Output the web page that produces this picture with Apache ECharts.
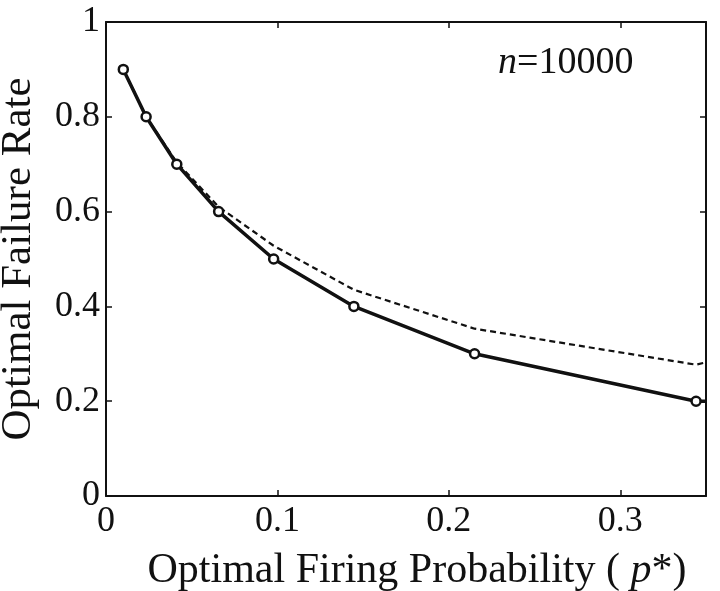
<!DOCTYPE html>
<html>
<head>
<meta charset="utf-8">
<script src="https://cdn.jsdelivr.net/npm/echarts@6/dist/echarts.min.js"></script>
<style>
  html, body { margin: 0; padding: 0; background: #fff; }
  #chart { width: 720px; height: 591px; }
</style>
</head>
<body>
<div id="chart"></div>
<script>
// optimal firing probability p* (x) for each point
const firingProb = [0.0101, 0.0234, 0.0413, 0.0657, 0.0978, 0.1446, 0.2150, 0.3442, 0.35];
// simulated optimal failure rate (solid, with markers)
const failureSim = [0.9, 0.8, 0.7, 0.6, 0.5, 0.4, 0.3, 0.2, 0.2];
// approximation (dashed)
const failureApprox = [0.9, 0.8, 0.704, 0.61, 0.528, 0.435, 0.353, 0.277, 0.282];
const xTicks = [0, 0.1, 0.2, 0.3];
const yTicks = [0, 0.2, 0.4, 0.6, 0.8, 1];

const font = "'Liberation Serif', 'Times New Roman', serif";
const black = "#111";

let myChart = echarts.init(document.getElementById("chart"));

const solidData = firingProb.map((x, i) => {
  // last point is only where the curve leaves the frame, no marker there
  if (i === firingProb.length - 1) return { value: [x, failureSim[i]], symbol: "none" };
  return [x, failureSim[i]];
});
const dashedData = firingProb.map((x, i) => [x, failureApprox[i]]);

const axisLine = { show: true, onZero: false, lineStyle: { color: black, width: 2 } };
const tick = { show: true, inside: true, length: 6, lineStyle: { color: black, width: 1.5 } };

myChart.setOption({
  animation: false,
  backgroundColor: "#fff",
  grid: { left: 106, right: 14, top: 22, bottom: 95, outerBoundsMode: "none", containLabel: false },
  xAxis: [
    {
      type: "value",
      position: "bottom",
      min: xTicks[0],
      max: 0.35,
      interval: 0.1,
      splitLine: { show: false },
      axisLine: axisLine,
      axisTick: tick,
      axisLabel: {
        color: black,
        fontFamily: font,
        fontSize: 36,
        margin: 8,
        showMaxLabel: false,
        formatter: (v) => (xTicks.some((t) => Math.abs(t - v) < 1e-9) ? String(+v.toFixed(2)) : ""),
      },
      name: "Optimal Firing Probability ( {i|p}*)",
      nameLocation: "middle",
      nameGap: 54,
      nameTextStyle: {
        color: black,
        fontFamily: font,
        fontSize: 42,
        padding: [0, 0, 0, 22],
        rich: { i: { fontFamily: font, fontSize: 42, fontStyle: "italic", color: black } },
      },
    },
    {
      type: "value",
      position: "top",
      min: xTicks[0],
      max: 0.35,
      interval: 0.1,
      splitLine: { show: false },
      axisLine: axisLine,
      axisTick: tick,
      axisLabel: { show: false },
    },
  ],
  yAxis: [
    {
      type: "value",
      position: "left",
      min: yTicks[0],
      max: yTicks[yTicks.length - 1],
      interval: 0.2,
      splitLine: { show: false },
      axisLine: axisLine,
      axisTick: tick,
      axisLabel: {
        color: black,
        fontFamily: font,
        fontSize: 36,
        margin: 6,
        formatter: (v) => String(+v.toFixed(1)),
      },
      name: "Optimal Failure Rate",
      nameLocation: "middle",
      nameGap: 66,
      nameTextStyle: { color: black, fontFamily: font, fontSize: 43 },
    },
    {
      type: "value",
      position: "right",
      min: yTicks[0],
      max: yTicks[yTicks.length - 1],
      interval: 0.2,
      splitLine: { show: false },
      axisLine: axisLine,
      axisTick: tick,
      axisLabel: { show: false },
    },
  ],
  graphic: [
    {
      type: "text",
      left: 498,
      top: 44,
      style: {
        text: "{i|n}=10000",
        fill: black,
        font: "38px " + font,
        rich: { i: { fontFamily: font, fontSize: 38, fontStyle: "italic", fill: black } },
      },
    },
  ],
  series: [
    {
      name: "approx",
      type: "line",
      data: dashedData,
      symbol: "none",
      z: 2,
      lineStyle: { color: black, width: 2.2, type: [6, 4] },
    },
    {
      name: "optimal",
      type: "line",
      data: solidData,
      symbol: "circle",
      symbolSize: 9,
      z: 3,
      lineStyle: { color: black, width: 3.5 },
      itemStyle: { color: "#fff", borderColor: black, borderWidth: 2.5 },
    },
  ],
});
</script>
</body>
</html>
